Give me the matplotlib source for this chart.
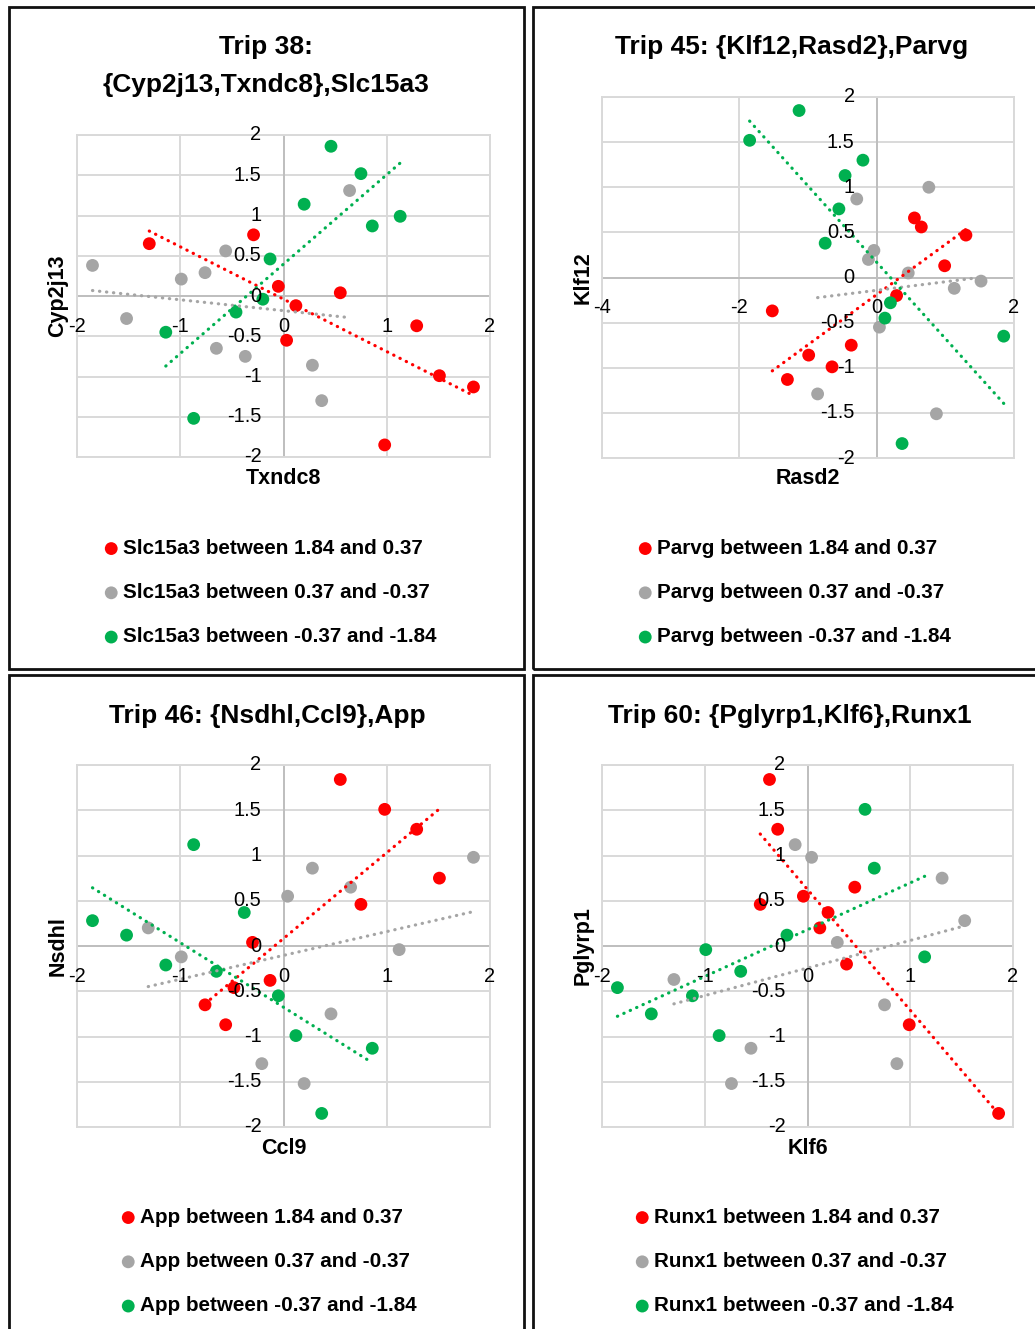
import numpy as np
import matplotlib.pyplot as plt
from matplotlib.patches import Rectangle

W, H = 1035, 1329
RED = "#FF0000"
GRAY = "#A5A5A5"
GREEN = "#00B050"
FONT = ["Liberation Sans", "DejaVu Sans"]

# Trip 38: x = Txndc8, y = Cyp2j13, groups by Slc15a3
t38_red_x = [-1.30, -0.29, -0.05, 0.12, 0.55, 0.03, 1.29, 1.51, 1.84, 0.98]
t38_red_y = [0.65, 0.76, 0.12, -0.12, 0.04, -0.55, -0.37, -0.99, -1.13, -1.85]
t38_gray_x = [-1.85, -1.52, -0.99, -0.76, -0.56, -0.65, -0.37, 0.28, 0.37, 0.64]
t38_gray_y = [0.38, -0.28, 0.21, 0.29, 0.56, -0.65, -0.75, -0.86, -1.30, 1.31]
t38_green_x = [0.46, 0.75, 0.20, 1.13, 0.86, -0.13, -0.20, -0.46, -1.14, -0.87]
t38_green_y = [1.86, 1.52, 1.14, 0.99, 0.87, 0.46, -0.04, -0.20, -0.45, -1.52]

# Trip 45: x = Rasd2, y = Klf12, groups by Parvg
t45_red_x = [0.55, 0.65, 1.30, 0.99, 0.29, -1.52, -0.37, -0.99, -0.65, -1.30]
t45_red_y = [0.66, 0.56, 0.47, 0.13, -0.20, -0.37, -0.75, -0.86, -0.99, -1.13]
t45_gray_x = [0.76, -0.29, -0.04, -0.12, 0.46, 1.13, 1.52, 0.04, -0.86, 0.87]
t45_gray_y = [1.00, 0.87, 0.30, 0.20, 0.05, -0.12, -0.04, -0.55, -1.29, -1.51]
t45_green_x = [-1.13, -1.85, -0.20, -0.46, -0.55, -0.75, 0.20, 0.12, 1.85, 0.37]
t45_green_y = [1.85, 1.52, 1.30, 1.13, 0.76, 0.38, -0.28, -0.45, -0.65, -1.84]

# Trip 46: x = Ccl9, y = Nsdhl, groups by App
t46_red_x = [0.55, 0.98, 1.29, 1.51, 0.75, -0.30, -0.13, -0.48, -0.76, -0.56]
t46_red_y = [1.84, 1.51, 1.29, 0.75, 0.46, 0.04, -0.38, -0.46, -0.65, -0.87]
t46_gray_x = [1.84, 0.28, 0.04, 0.65, -1.31, -0.99, 1.12, 0.46, -0.21, 0.20]
t46_gray_y = [0.98, 0.86, 0.55, 0.65, 0.20, -0.12, -0.04, -0.75, -1.30, -1.52]
t46_green_x = [-0.87, -0.38, -1.85, -1.52, -1.14, -0.65, -0.05, 0.12, 0.86, 0.37]
t46_green_y = [1.12, 0.37, 0.28, 0.12, -0.21, -0.28, -0.55, -0.99, -1.13, -1.85]

# Trip 60: x = Klf6, y = Pglyrp1, groups by Runx1
t60_red_x = [-0.37, -0.29, -0.04, -0.46, 0.46, 0.20, 0.12, 0.38, 0.99, 1.86]
t60_red_y = [1.84, 1.29, 0.55, 0.46, 0.65, 0.37, 0.20, -0.20, -0.87, -1.85]
t60_gray_x = [-0.12, 0.04, 1.31, 1.53, 0.29, -1.30, 0.75, -0.55, 0.87, -0.74]
t60_gray_y = [1.12, 0.98, 0.75, 0.28, 0.04, -0.37, -0.65, -1.13, -1.30, -1.52]
t60_green_x = [0.56, 0.65, -0.20, -0.99, -0.65, 1.14, -1.85, -1.12, -1.52, -0.86]
t60_green_y = [1.51, 0.86, 0.12, -0.04, -0.28, -0.12, -0.46, -0.55, -0.75, -0.99]

y_ticks = [-2, -1.5, -1, -0.5, 0, 0.5, 1, 1.5, 2]
x_ticks_std = [-2, -1, 0, 1, 2]
x_ticks_wide = [-4, -2, 0, 2]
range_labels = ["between 1.84 and 0.37", "between 0.37 and -0.37", "between -0.37 and -1.84"]


def fig_rect(left, top, right, bottom):
    return [left / W, 1 - bottom / H, (right - left) / W, (bottom - top) / H]


def fmt(v):
    return ("%g" % v)


def draw_panel(fig, plot_box, title, title_xy, xlabel, ylabel, gene, groups,
               xticks, legend_xy):
    ax = fig.add_axes(fig_rect(*plot_box))
    ax.set_xlim(xticks[0], xticks[-1])
    ax.set_ylim(-2, 2)
    ax.set_xticks(xticks)
    ax.set_yticks(y_ticks)
    ax.tick_params(length=0, labelbottom=False, labelleft=False)
    ax.grid(True, color="#D9D9D9", lw=1.4, zorder=0)
    ax.set_axisbelow(True)
    for sp in ax.spines.values():
        sp.set_color("#D9D9D9")
        sp.set_linewidth(1.4)
    ax.axhline(0, color="#BFBFBF", lw=1.4, zorder=1)
    ax.axvline(0, color="#BFBFBF", lw=1.4, zorder=1)

    handles = []
    for (xs, ys, col), rng in zip(groups, range_labels):
        h = ax.scatter(xs, ys, s=85, color=col, edgecolors="none", zorder=3,
                       label=gene + " " + rng)
        handles.append(h)
        k, b = np.polyfit(xs, ys, 1)
        xx = np.array([min(xs), max(xs)])
        ax.plot(xx, k * xx + b, color=col, lw=2.3, linestyle=(0, (0.1, 2.1)),
                dash_capstyle="round", zorder=4)

    # tick labels sit on the axes crossing at zero, Excel style
    for v in xticks:
        ax.annotate(fmt(v), xy=(v, 0), xytext=(0, -30), textcoords="offset pixels",
                    ha="center", va="center", fontsize=14.4, family=FONT,
                    annotation_clip=False, zorder=5)
    for v in y_ticks:
        ax.annotate(fmt(v), xy=(0, v), xytext=(-22, 0), textcoords="offset pixels",
                    ha="right", va="center", fontsize=14.4, family=FONT,
                    annotation_clip=False, zorder=5)

    left, top, right, bottom = plot_box
    fig.text(title_xy[0] / W, 1 - title_xy[1] / H, title, ha="center", va="center",
             fontsize=19, fontweight="bold", family=FONT, linespacing=1.75)
    fig.text((left + right) / 2 / W, 1 - (bottom + 21) / H, xlabel, ha="center",
             va="center", fontsize=15.5, fontweight="bold", family=FONT)
    fig.text((left - 19) / W, 1 - (top + bottom) / 2 / H, ylabel, ha="center",
             va="center", rotation=90, fontsize=15.5, fontweight="bold", family=FONT)

    ax.legend(handles=handles, loc="upper left",
              bbox_to_anchor=(legend_xy[0] / W, 1 - legend_xy[1] / H),
              bbox_transform=fig.transFigure, frameon=False, borderpad=0,
              borderaxespad=0, handlelength=0.7, handletextpad=0.2,
              labelspacing=1.22, markerscale=1.0,
              prop={"family": FONT, "weight": "bold", "size": 14.9})
    return ax


fig = plt.figure(figsize=(W / 100, H / 100), dpi=100)

for box in [(9, 7, 524, 669), (533, 7, 1050, 669), (9, 675, 524, 1345), (533, 675, 1050, 1345)]:
    l, t, r, b = box
    fig.add_artist(Rectangle((l / W, 1 - b / H), (r - l) / W, (b - t) / H,
                             transform=fig.transFigure, fill=False,
                             edgecolor="#111111", lw=2.0))

draw_panel(fig, (77, 135, 490, 457), "Trip 38:\n{Cyp2j13,Txndc8},Slc15a3", (266, 66),
           "Txndc8", "Cyp2j13", "Slc15a3",
           [(t38_red_x, t38_red_y, RED), (t38_gray_x, t38_gray_y, GRAY),
            (t38_green_x, t38_green_y, GREEN)],
           x_ticks_std, (104, 539))

draw_panel(fig, (602, 97, 1014, 458), "Trip 45: {Klf12,Rasd2},Parvg", (792, 47),
           "Rasd2", "Klf12", "Parvg",
           [(t45_red_x, t45_red_y, RED), (t45_gray_x, t45_gray_y, GRAY),
            (t45_green_x, t45_green_y, GREEN)],
           x_ticks_wide, (638, 539))

draw_panel(fig, (77, 765, 490, 1127), "Trip 46: {Nsdhl,Ccl9},App", (267, 716),
           "Ccl9", "Nsdhl", "App",
           [(t46_red_x, t46_red_y, RED), (t46_gray_x, t46_gray_y, GRAY),
            (t46_green_x, t46_green_y, GREEN)],
           x_ticks_std, (121, 1208))

draw_panel(fig, (602, 765, 1013, 1127), "Trip 60: {Pglyrp1,Klf6},Runx1", (790, 716),
           "Klf6", "Pglyrp1", "Runx1",
           [(t60_red_x, t60_red_y, RED), (t60_gray_x, t60_gray_y, GRAY),
            (t60_green_x, t60_green_y, GREEN)],
           x_ticks_std, (635, 1208))

fig.savefig("out.png", dpi=100)
